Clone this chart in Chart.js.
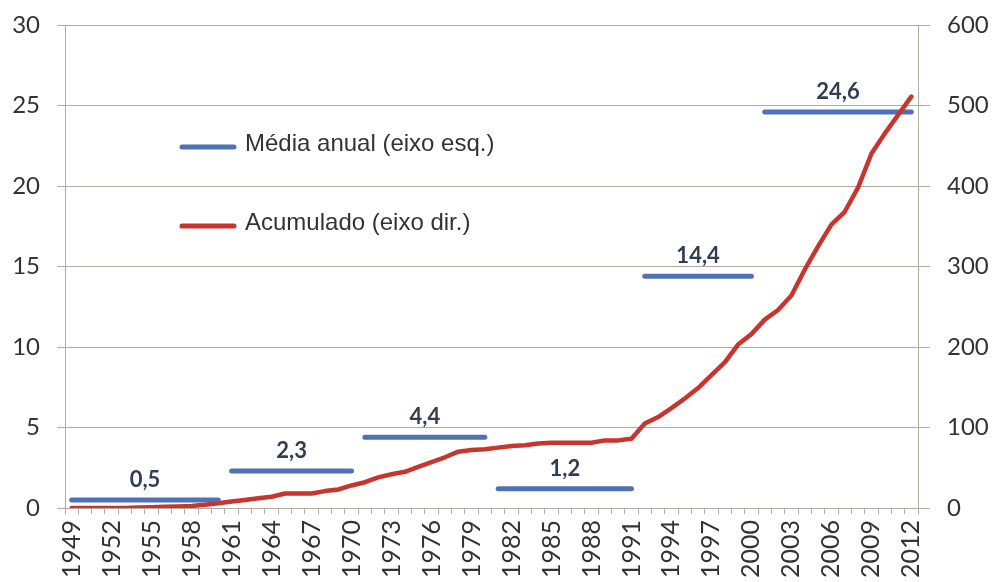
<!DOCTYPE html>
<html>
<head>
<meta charset="utf-8">
<script src="https://cdn.jsdelivr.net/npm/chart.js@4.4.1/dist/chart.umd.min.js"></script>
<style>
html,body{margin:0;padding:0;background:#fff;overflow:hidden;}
#wrap{position:relative;width:992px;height:582px;}
</style>
</head>
<body>
<div id="wrap"><canvas id="c" width="992" height="582"></canvas></div>
<script>
const years = [1949,1950,1951,1952,1953,1954,1955,1956,1957,1958,1959,1960,1961,1962,1963,1964,1965,1966,1967,1968,1969,1970,1971,1972,1973,1974,1975,1976,1977,1978,1979,1980,1981,1982,1983,1984,1985,1986,1987,1988,1989,1990,1991,1992,1993,1994,1995,1996,1997,1998,1999,2000,2001,2002,2003,2004,2005,2006,2007,2008,2009,2010,2011,2012];
const cumulative = [0,0,0,0,0,0.5,1,1.5,2,2.5,4,6,8,10,12,14,18,18,18,21,23,28,32,38,42,45,51,57,63,70,72,73,75,77,78,80,81,81,81,81,84,84,86,105,113,124,136,149,165,181,203,216,234,246,264,296,325,352,368,398,440,465,488,511];
const periodStart = [1949,1961,1971,1981,1992,2001];
const periodEnd   = [1960,1970,1980,1991,2000,2012];
const periodAvg   = [0.5,2.3,4.4,1.2,14.4,24.6];
const periodLabels = ['0,5','2,3','4,4','1,2','14,4','24,6'];
const leftTicks = [0,5,10,15,20,25,30];
const rightTicks = [0,100,200,300,400,500,600];
const seriesNames = ['Média anual (eixo esq.)','Acumulado (eixo dir.)'];

const BLUE = '#4e72b3';
const RED = '#c8352e';
const GRID = '#b3aaa1';
const TXT = '#333333';

const avgData = years.map(y => {
  for (let i = 0; i < periodStart.length; i++) {
    if (y >= periodStart[i] && y <= periodEnd[i]) return periodAvg[i];
  }
  return null;
});

const overlayPlugin = {
  id: 'overlay',
  afterDatasetsDraw(chart) {
    const ctx = chart.ctx;
    const xs = chart.scales.x, ys = chart.scales.y;
    ctx.save();
    ctx.font = 'bold 22px Lato';
    ctx.fillStyle = '#323c52';
    ctx.textAlign = 'center';
    ctx.textBaseline = 'middle';
    for (let i = 0; i < periodAvg.length; i++) {
      const x0 = xs.getPixelForValue(years.indexOf(periodStart[i]));
      const x1 = xs.getPixelForValue(years.indexOf(periodEnd[i]));
      const y = ys.getPixelForValue(periodAvg[i]);
      ctx.fillText(periodLabels[i], (x0 + x1) / 2, y - 20);
    }
    const colors = [BLUE, RED];
    const rows = [147, 226];
    ctx.font = '24px "Liberation Sans"';
    ctx.textAlign = 'left';
    ctx.fillStyle = TXT;
    for (let i = 0; i < 2; i++) {
      ctx.strokeStyle = colors[i];
      ctx.lineWidth = 5;
      ctx.lineCap = 'round';
      ctx.beginPath();
      ctx.moveTo(182, rows[i]);
      ctx.lineTo(234, rows[i]);
      ctx.stroke();
      ctx.fillText(seriesNames[i], 245, rows[i] - 3);
    }
    ctx.restore();
  }
};

new Chart(document.getElementById('c'), {
  type: 'line',
  data: {
    labels: years.map(String),
    datasets: [
      {
        label: seriesNames[0],
        data: avgData,
        yAxisID: 'y',
        borderColor: BLUE,
        borderWidth: 5,
        borderCapStyle: 'round',
        pointRadius: 0,
        tension: 0,
        order: 1,
        segment: {
          borderColor: c => (c.p0.parsed.y !== c.p1.parsed.y ? 'rgba(0,0,0,0)' : BLUE)
        }
      },
      {
        label: seriesNames[1],
        data: cumulative,
        yAxisID: 'y1',
        borderColor: RED,
        borderWidth: 4.5,
        borderJoinStyle: 'round',
        borderCapStyle: 'round',
        pointRadius: 0,
        tension: 0,
        order: 0
      }
    ]
  },
  options: {
    responsive: false,
    animation: false,
    events: [],
    layout: { padding: { top: 25, left: 0, right: 0, bottom: 0 } },
    plugins: { legend: { display: false }, tooltip: { enabled: false } },
    scales: {
      x: {
        type: 'category',
        offset: true,
        grid: { drawOnChartArea: false, drawTicks: true, tickLength: 6, offset: true, color: GRID },
        border: { color: GRID },
        ticks: {
          autoSkip: false, minRotation: 90, maxRotation: 90, padding: 6,
          color: TXT, font: { family: 'Lato', size: 25 },
          callback: (v, i) => (i % 3 === 0 ? years[i] : '')
        },
        afterFit: s => { s.height = 74; }
      },
      y: {
        position: 'left',
        min: 0, max: 30,
        afterBuildTicks: s => { s.ticks = leftTicks.map(v => ({ value: v })); },
        grid: { color: GRID, tickLength: 8 },
        border: { color: GRID },
        ticks: { padding: 17, color: TXT, font: { family: 'Lato', size: 24 } },
        afterFit: s => { s.width = 65; s.paddingTop = 0; s.paddingBottom = 0; }
      },
      y1: {
        position: 'right',
        min: 0, max: 600,
        afterBuildTicks: s => { s.ticks = rightTicks.map(v => ({ value: v })); },
        grid: { drawOnChartArea: false, color: GRID, tickLength: 12 },
        border: { color: GRID },
        ticks: { padding: 17, color: TXT, font: { family: 'Lato', size: 24 } },
        afterFit: s => { s.width = 74; s.paddingTop = 0; s.paddingBottom = 0; }
      }
    }
  },
  plugins: [overlayPlugin]
});
</script>
</body>
</html>
